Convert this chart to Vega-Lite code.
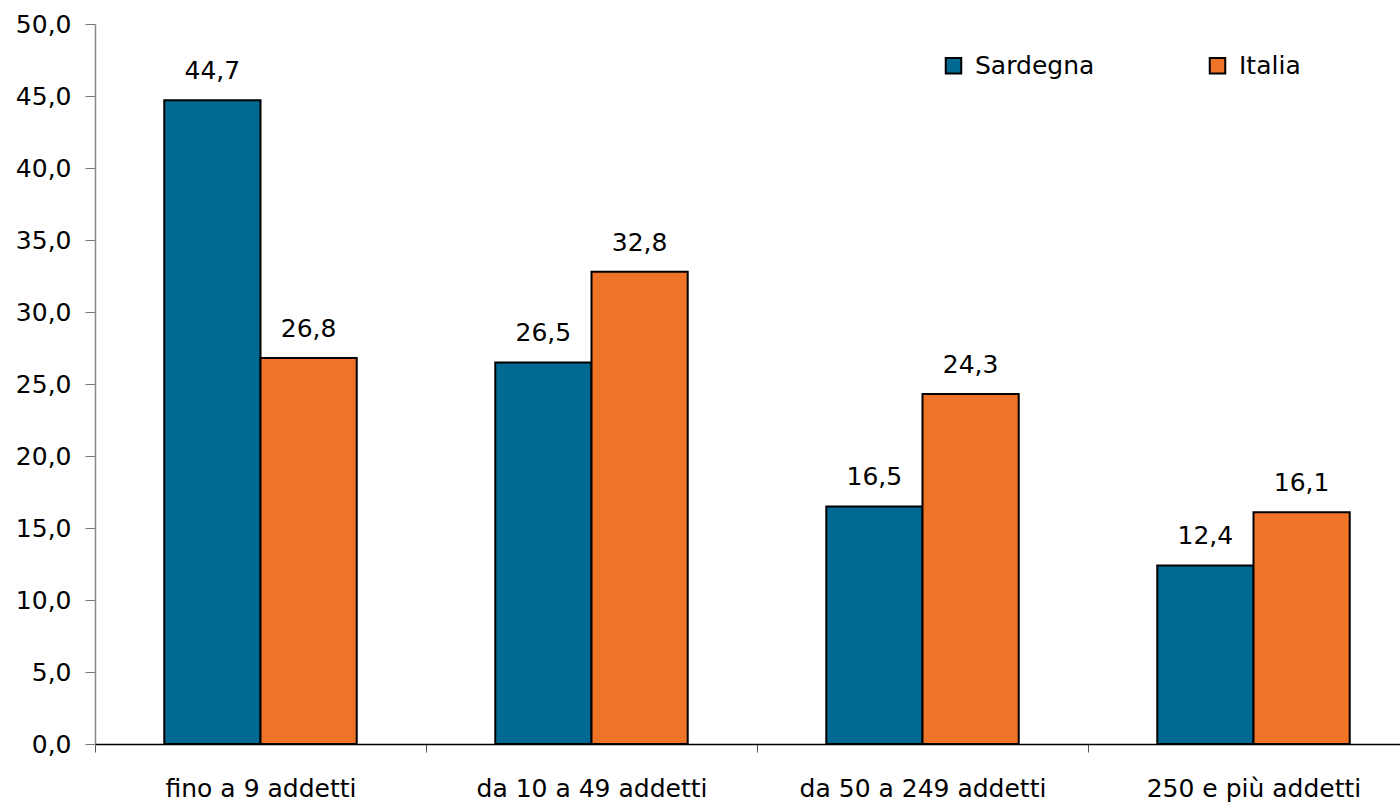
{
  "$schema": "https://vega.github.io/schema/vega-lite/v6.json",
  "width": 1324,
  "height": 720,
  "autosize": {"type": "none"},
  "padding": {"left": 95, "top": 24, "right": 0, "bottom": 59},
  "background": "white",
  "config": {
    "view": {"stroke": null},
    "font": "DejaVu Sans",
    "locale": {"number": {"decimal": ",", "thousands": ".", "grouping": [3], "currency": ["€", ""]}}
  },
  "data": {
    "values": [
      {"classe": "fino a 9 addetti", "area": "Sardegna", "valore": 44.7},
      {"classe": "fino a 9 addetti", "area": "Italia", "valore": 26.8},
      {"classe": "da 10 a 49 addetti", "area": "Sardegna", "valore": 26.5},
      {"classe": "da 10 a 49 addetti", "area": "Italia", "valore": 32.8},
      {"classe": "da 50 a 249 addetti", "area": "Sardegna", "valore": 16.5},
      {"classe": "da 50 a 249 addetti", "area": "Italia", "valore": 24.3},
      {"classe": "250 e più addetti", "area": "Sardegna", "valore": 12.4},
      {"classe": "250 e più addetti", "area": "Italia", "valore": 16.1}
    ]
  },
  "encoding": {
    "x": {
      "field": "classe", "type": "nominal", "sort": null,
      "scale": {"paddingInner": 0, "paddingOuter": 0},
      "axis": {
        "title": null, "labelAngle": 0, "labelFontSize": 25, "labelColor": "black",
        "labelPadding": 24, "labelLimit": 0, "tickBand": "extent", "tickSize": 8, "tickColor": "#555",
        "domainColor": "black", "domainWidth": 1.5
      }
    },
    "xOffset": {
      "field": "area", "type": "nominal", "sort": ["Sardegna", "Italia"],
      "scale": {"paddingInner": 0, "paddingOuter": 0.72}
    },
    "y": {
      "field": "valore", "type": "quantitative",
      "scale": {"domain": [0, 50], "nice": false},
      "axis": {
        "title": null, "values": [0,5,10,15,20,25,30,35,40,45,50], "format": ".1f",
        "grid": false, "labelFontSize": 25, "labelColor": "black", "labelPadding": 14,
        "tickSize": 10, "tickColor": "#777", "domainColor": "#888", "domainWidth": 1.5
      }
    }
  },
  "layer": [
    {
      "mark": {"type": "bar", "stroke": "black", "strokeWidth": 2},
      "encoding": {
        "color": {
          "field": "area", "type": "nominal", "sort": ["Sardegna", "Italia"],
          "scale": {"domain": ["Sardegna", "Italia"], "range": ["#006A92", "#F07427"]},
          "legend": {
            "title": null, "orient": "none", "legendX": 846, "legendY": 29,
            "direction": "horizontal", "symbolType": "square", "symbolSize": 240,
            "symbolStrokeColor": "black", "symbolStrokeWidth": 2,
            "labelFontSize": 25, "labelColor": "black", "labelOffset": 9,
            "columnPadding": 110, "labelLimit": 300
          }
        }
      }
    },
    {
      "mark": {"type": "text", "dy": -21, "baseline": "alphabetic", "fontSize": 25, "color": "black"},
      "encoding": {
        "text": {"field": "valore", "type": "quantitative", "format": ".1f"}
      }
    }
  ]
}
